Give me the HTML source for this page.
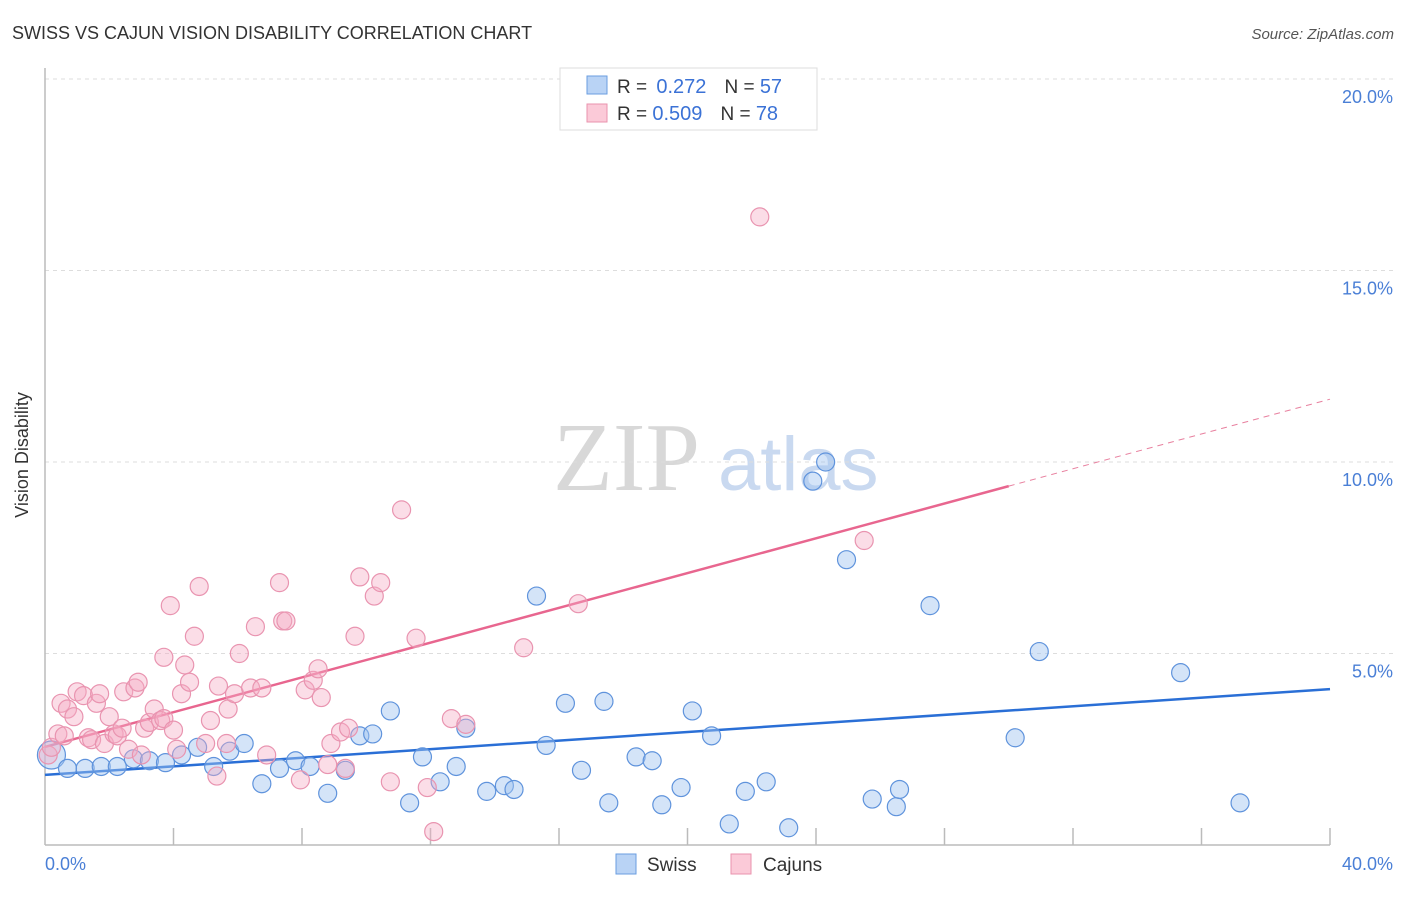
<!DOCTYPE html>
<html><head><meta charset="utf-8">
<style>
body{margin:0;background:#fff;font-family:"Liberation Sans",sans-serif;}
svg text{font-family:"Liberation Sans",sans-serif;}
</style></head>
<body>
<svg id="chart" width="1406" height="892" xmlns="http://www.w3.org/2000/svg">
<text x="12" y="39" font-size="18" fill="#333">SWISS VS CAJUN VISION DISABILITY CORRELATION CHART</text>
<text x="1394" y="39" font-size="15" fill="#555" font-style="italic" text-anchor="end">Source: ZipAtlas.com</text>
<g>
<text x="553" y="490" style="font-family:'Liberation Serif',serif" font-size="98" fill="#d8d8d8">ZIP</text>
<text x="718" y="490" font-size="76" fill="#c9d9f0">atlas</text>
</g>
<g id="grid"></g>
<g id="axes"></g>
<g id="lines"></g>
<g id="dots"></g>
<text x="28" y="455" font-size="18" fill="#333" text-anchor="middle" transform="rotate(-90 28 455)">Vision Disability</text>
<text x="45" y="870" font-size="18" fill="#4a7fd6">0.0%</text>
<text x="1393" y="870" font-size="18" fill="#4a7fd6" text-anchor="end">40.0%</text>
<g>
<rect x="560" y="68" width="257" height="62" fill="#fff" stroke="#ddd"/>
<rect x="587" y="76" width="20" height="18" fill="#b9d3f5" stroke="#6a9ee0"/>
<rect x="587" y="104" width="20" height="18" fill="#fbcad8" stroke="#ea93ae"/>
<text x="617" y="93" font-size="19" fill="#333">R = <tspan dx="4" fill="#3b72d6" font-size="20">0.272</tspan><tspan dx="18">N = </tspan><tspan fill="#3b72d6" font-size="20">57</tspan></text>
<text x="617" y="120" font-size="19" fill="#333">R = <tspan dx="0" fill="#3b72d6" font-size="20">0.509</tspan><tspan dx="18">N = </tspan><tspan fill="#3b72d6" font-size="20">78</tspan></text>
</g>
<g>
<rect x="616" y="854" width="20" height="20" fill="#b9d3f5" stroke="#6a9ee0"/>
<text x="647" y="871" font-size="19" fill="#333">Swiss</text>
<rect x="731" y="854" width="20" height="20" fill="#fbcad8" stroke="#ea93ae"/>
<text x="763" y="871" font-size="19" fill="#333">Cajuns</text>
</g>
</svg>
<script>
const yTicks=[5,10,15,20];
const yTickLabels=["5.0%","10.0%","15.0%","20.0%"];
const xTicks=[4,8,12,16,20,24,28,32,36,40];
const swissX=[0.2,0.7,1.25,1.75,2.25,2.75,3.25,3.75,4.25,4.75,5.25,5.75,6.2,6.75,7.3,7.8,8.25,8.8,9.35,9.8,10.2,10.75,11.35,11.75,12.3,12.8,13.1,13.75,14.3,14.6,15.3,15.6,16.2,16.7,17.4,17.55,18.4,18.9,19.2,19.8,20.15,20.75,21.3,21.8,22.45,23.15,23.9,24.3,24.95,25.75,26.5,26.6,27.55,30.2,30.95,35.35,37.2];
const swissY=[2.35,2.0,2.0,2.05,2.05,2.25,2.2,2.15,2.35,2.55,2.05,2.45,2.65,1.6,2.0,2.2,2.05,1.35,1.95,2.85,2.9,3.5,1.1,2.3,1.65,2.05,3.05,1.4,1.55,1.45,6.5,2.6,3.7,1.95,3.75,1.1,2.3,2.2,1.05,1.5,3.5,2.85,0.55,1.4,1.65,0.45,9.5,10.0,7.45,1.2,1.0,1.45,6.25,2.8,5.05,4.5,1.1];
const cajunX=[0.1,0.2,0.4,0.5,0.6,0.7,0.9,1.0,1.2,1.35,1.45,1.6,1.7,1.85,2.0,2.15,2.25,2.4,2.45,2.6,2.8,2.9,3.0,3.1,3.25,3.4,3.6,3.7,3.7,3.9,4.0,4.1,4.25,4.35,4.5,4.65,4.8,5.0,5.15,5.35,5.4,5.65,5.7,5.9,6.05,6.4,6.55,6.75,6.9,7.3,7.4,7.5,7.95,8.1,8.35,8.5,8.6,8.8,8.9,9.2,9.45,9.35,9.65,9.8,10.25,10.45,10.75,11.1,11.55,11.9,12.1,12.65,13.1,14.9,16.6,22.25,25.5];
const cajunY=[2.35,2.55,2.9,3.7,2.85,3.55,3.35,4.0,3.9,2.8,2.75,3.7,3.95,2.65,3.35,2.9,2.85,3.05,4.0,2.5,4.1,4.25,2.35,3.05,3.2,3.55,3.25,4.9,3.3,6.25,3.0,2.5,3.95,4.7,4.25,5.45,6.75,2.65,3.25,1.8,4.15,2.65,3.55,3.95,5.0,4.1,5.7,4.1,2.35,6.85,5.85,5.85,1.7,4.05,4.3,4.6,3.85,2.1,2.65,2.95,3.05,2.0,5.45,7.0,6.5,6.85,1.65,8.75,5.4,1.5,0.35,3.3,3.15,5.15,6.3,16.4,7.95];
const swissLine=[1.83,4.07];   // y at x=0, x=40
const cajunLine=[2.56,11.64];  // y at x=0, x=40
const cajunSolidEnd=30;

const NS="http://www.w3.org/2000/svg";
const X=v=>45+v*(1330-45)/40;
const Y=v=>845-v*(845-79)/20;
function mk(tag,attrs,parent){const e=document.createElementNS(NS,tag);for(const k in attrs)e.setAttribute(k,attrs[k]);parent.appendChild(e);return e;}
const grid=document.getElementById('grid'),axes=document.getElementById('axes'),lines=document.getElementById('lines'),dots=document.getElementById('dots');
yTicks.forEach((t,i)=>{
 const l=mk('line',{x1:45,x2:1395,y1:Y(t),y2:Y(t),stroke:'#ddd','stroke-dasharray':'4 4'},grid);
 
 
 const tx=mk('text',{x:1393,y:Y(t)+24,'font-size':18,fill:'#4a7fd6','text-anchor':'end'},grid);
 tx.textContent=yTickLabels[i];
 
 
});
const ya=mk('line',{x1:45,x2:45,y1:68,y2:845,stroke:'#bbb','stroke-width':1.5},axes);


const xa=mk('line',{x1:45,x2:1330,y1:845,y2:845,stroke:'#bbb','stroke-width':1.5},axes);


xTicks.forEach(t=>{
 const l=mk('line',{x1:X(t),x2:X(t),y1:828,y2:845,stroke:'#bbb','stroke-width':1.5},axes);
 
 
});
function drawDots(xs,ys,fill,stroke,name){
 xs.forEach((x,i)=>{
  const r=(i===0&&name==='swiss-point')?14:9;
  const c=mk('circle',{cx:X(x),cy:Y(ys[i]),r:r,fill:fill,stroke:stroke,'stroke-width':1.2},dots);
  
  
 });
}
drawDots(swissX,swissY,'rgba(160,196,240,0.45)','#5f93dc','swiss-point');
drawDots(cajunX,cajunY,'rgba(246,170,194,0.4)','#e994b0','cajun-point');
const at=(p,x)=>p[0]+(p[1]-p[0])*x/40;
const bl=mk('line',{x1:X(0),y1:Y(at(swissLine,0)),x2:X(40),y2:Y(at(swissLine,40)),stroke:'#2a6fd6','stroke-width':2.5},lines);


const pl=mk('line',{x1:X(0),y1:Y(at(cajunLine,0)),x2:X(cajunSolidEnd),y2:Y(at(cajunLine,cajunSolidEnd)),stroke:'#e8668f','stroke-width':2.5},lines);


const pd=mk('line',{x1:X(cajunSolidEnd),y1:Y(at(cajunLine,cajunSolidEnd)),x2:X(40),y2:Y(at(cajunLine,40)),stroke:'#e8809f','stroke-width':1,'stroke-dasharray':'6 5'},lines);


</script>
</body></html>
